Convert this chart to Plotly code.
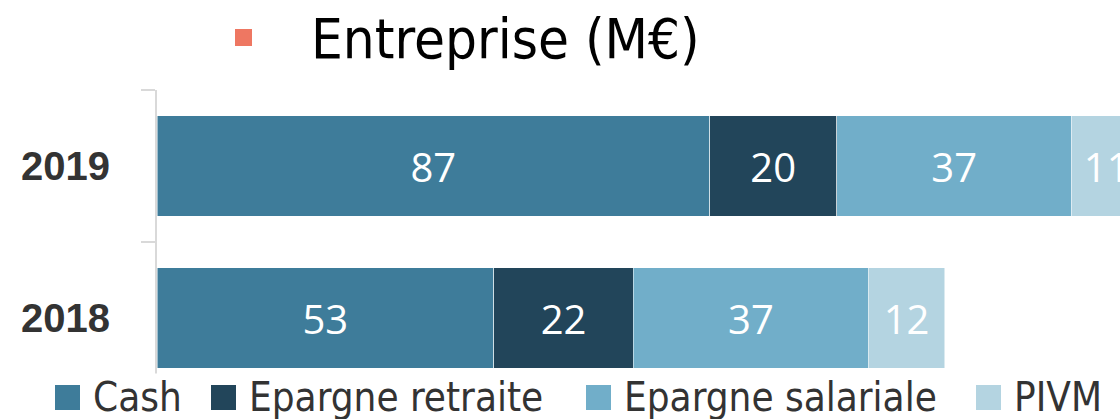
import plotly.graph_objects as go

years = ["2018", "2019"]
series_names = ["Cash", "Epargne retraite", "Epargne salariale", "PIVM"]
cash = [53, 87]
epargne_retraite = [22, 20]
epargne_salariale = [37, 37]
pivm = [12, 11]
series_values = [cash, epargne_retraite, epargne_salariale, pivm]
colors = ["#3e7c9a", "#22455a", "#71aec9", "#b4d4e1"]
title_text = "Entreprise (M€)"
x_max = 151.6

W, H = 1120, 419
L, R, T, B = 157, 0, 90, 25
PW = W - L - R
PH = H - T - B


def px(x):
    return (x - L) / PW


def py(y):
    return 1 - (y - T) / PH


fig = go.Figure()
for name, vals, col in zip(series_names, series_values, colors):
    fig.add_trace(go.Bar(
        y=years, x=vals, name=name, orientation="h",
        marker=dict(color=col, line=dict(color="rgba(255,255,255,0.5)", width=1)),
        text=[str(v) for v in vals], textposition="inside",
        insidetextanchor="middle",
        textfont=dict(family="Open Sans", size=40, color="white"),
        showlegend=False,
    ))

shapes = []
annotations = []
# title bullet + text
shapes.append(dict(type="rect", xref="paper", yref="paper",
                   x0=px(235), x1=px(252), y0=py(46), y1=py(29),
                   fillcolor="#ee7762", line=dict(width=0)))
annotations.append(dict(xref="paper", yref="paper", x=px(309), y=py(38),
                        xanchor="left", yanchor="middle", showarrow=False,
                        text=title_text,
                        font=dict(family="DejaVu Sans Condensed", size=56, color="black")))

# custom legend
legend_sq_left = [55, 211, 586, 976]
for name, col, x0 in zip(series_names, colors, legend_sq_left):
    shapes.append(dict(type="rect", xref="paper", yref="paper",
                       x0=px(x0), x1=px(x0 + 25), y0=py(410), y1=py(385),
                       fillcolor=col, line=dict(width=0)))
    annotations.append(dict(xref="paper", yref="paper", x=px(x0 + 37), y=py(397),
                            xanchor="left", yanchor="middle", showarrow=False,
                            text=name, bgcolor="white", borderpad=0,
                            font=dict(family="DejaVu Sans Condensed", size=40, color="#333333")))

fig.update_layout(
    barmode="stack",
    bargap=0.34,
    width=W, height=H,
    margin=dict(l=L, r=R, t=T, b=B, pad=0),
    paper_bgcolor="white", plot_bgcolor="white",
    xaxis=dict(range=[0, x_max], visible=False, fixedrange=True),
    yaxis=dict(type="category", categoryorder="array", categoryarray=years,
               showline=True, linecolor="#d9d9d9", linewidth=2,
               ticks="outside", tickson="boundaries", ticklen=14, tickcolor="#d9d9d9", tickwidth=2,
               ticklabelstandoff=37, fixedrange=True,
               tickfont=dict(family="Liberation Sans", size=40, color="#333333", weight="bold"),
               showgrid=False, zeroline=False),
    shapes=shapes,
    annotations=annotations,
    font=dict(family="Open Sans"),
)

fig.write_html("out.html", config={"displayModeBar": False},
               post_script="document.body.style.margin='0';document.body.style.overflow='hidden';")
